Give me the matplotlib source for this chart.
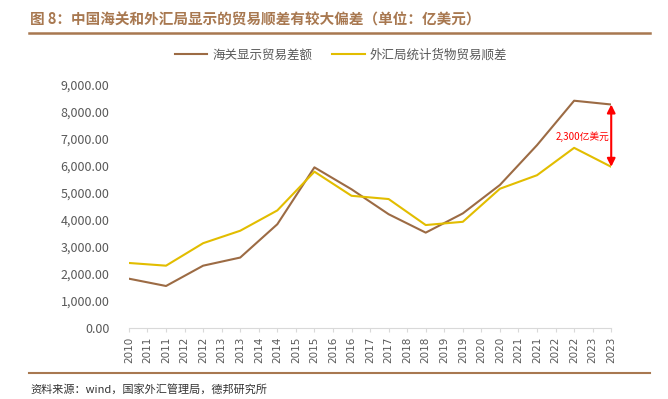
import matplotlib.pyplot as plt
from matplotlib.lines import Line2D

plt.rcParams['font.family'] = ['Noto Sans CJK SC', 'DejaVu Sans']

years = list(range(2010, 2024))
tick_labels = ['2010'] + [str(y) for y in range(2011, 2024) for _ in range(2)]
customs = [1820, 1550, 2300, 2600, 3830, 5930, 5120, 4200, 3520, 4230, 5280, 6750, 8390, 8250]
safe = [2400, 2300, 3130, 3590, 4340, 5770, 4880, 4760, 3800, 3920, 5140, 5640, 6650, 5950]
gap_label = '2,300亿美元'

brown = '#9C6B44'
yellow = '#E2BD00'
gray = '#595959'

fig = plt.figure(figsize=(6.68, 3.99), dpi=100)
ax = fig.add_axes([0.193, 0.178, 0.722, 0.611])

x = [2 * i for i in range(len(years))]
ax.plot(x, customs, color=brown, lw=1.5, label='海关显示贸易差额')
ax.plot(x, safe, color=yellow, lw=1.5, label='外汇局统计货物贸易顺差')

# gap arrow at the last point
ax.annotate('', xy=(x[-1], safe[-1]), xytext=(x[-1], customs[-1]),
            arrowprops=dict(arrowstyle='<|-|>', color='#FF0000', lw=1.5,
                            mutation_scale=12, shrinkA=0, shrinkB=0))
ax.text(x[-1] - 0.1, 7050, gap_label, color='#FF0000', fontsize=7,
        ha='right', va='center')

ax.set_xlim(0, len(tick_labels) - 1)
ax.set_ylim(0, 9000)
ax.set_xticks(range(len(tick_labels)))
ax.set_xticklabels(tick_labels, rotation=90, fontsize=7.5, color=gray,
                   family='DejaVu Sans')
ax.set_yticks(range(0, 9001, 1000))
ax.set_yticklabels([f'{v:,.2f}' for v in range(0, 9001, 1000)], fontsize=9, color=gray)
ax.tick_params(axis='y', length=0, pad=14)
ax.tick_params(axis='x', length=3, color='#d9d9d9', pad=3)
for s in ['top', 'right', 'left']:
    ax.spines[s].set_visible(False)
ax.spines['bottom'].set_color('#d9d9d9')

ax.legend(loc='center', bbox_to_anchor=(0.44, 1.12), ncol=2, frameon=False,
          fontsize=9, handlelength=2.6, columnspacing=1.6, handletextpad=0.4,
          labelcolor=gray)

fig.text(0.045, 0.952, '图 8：中国海关和外汇局显示的贸易顺差有较大偏差（单位：亿美元）',
         fontsize=10.5, fontweight='bold', color='#A87850', va='center')
fig.add_artist(Line2D([0.043, 0.973], [0.917, 0.917], color='#A87850', lw=1.8))
fig.add_artist(Line2D([0.043, 0.973], [0.065, 0.065], color='#A87850', lw=1.5))
fig.text(0.045, 0.025, '资料来源：wind，国家外汇管理局，德邦研究所', fontsize=8,
         color='#333333', va='center')

fig.savefig('out.png', dpi=100)
